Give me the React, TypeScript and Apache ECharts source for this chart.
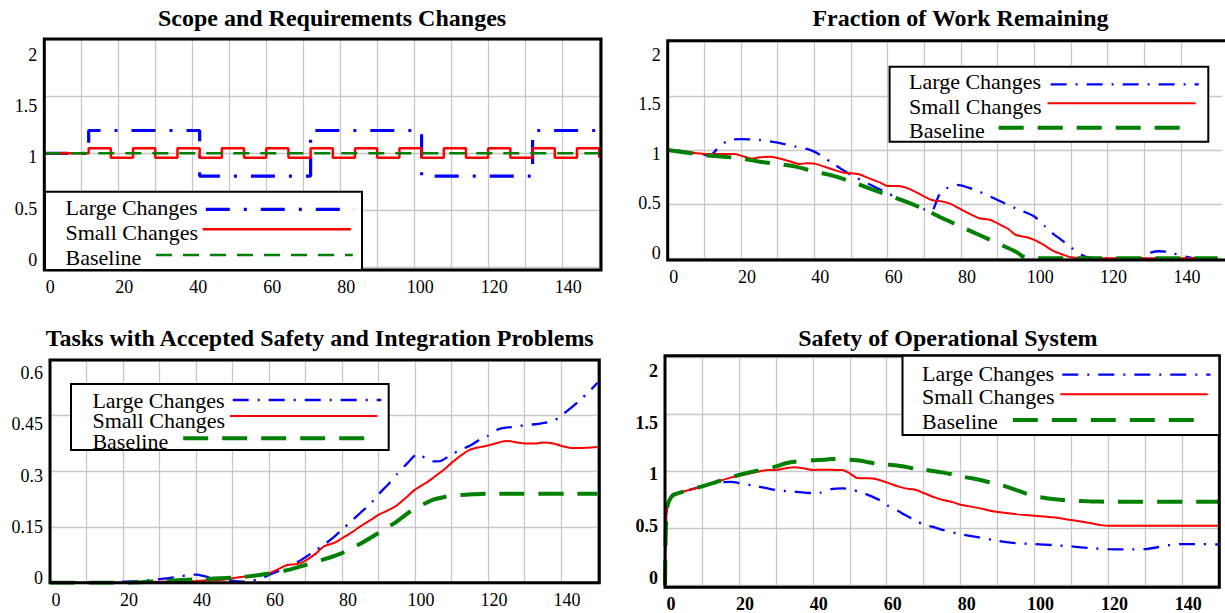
import React, { useEffect, useRef } from "react";
import * as echarts from "echarts";

const SERIF = '"Liberation Serif", "Times New Roman", Times, serif';
const BLUE = "#0000ff";
const RED = "#ff0000";
const GREEN = "#008000";
const GRID_LINE = "#c8c8c8";

const SERIES_NAMES = ["Large Changes", "Small Changes", "Baseline"];
const X_TICK_LABELS = [0, 20, 40, 60, 80, 100, 120, 140];
const Y_TICK_LABELS_2 = [0, 0.5, 1, 1.5, 2];
const Y_TICK_LABELS_06 = [0, 0.15, 0.3, 0.45, 0.6];

// Scope and Requirements Changes (piecewise constant)
const scopeLargeT = [0, 12, 42, 72, 102, 132, 150];
const scopeLargeV = [1, 1.2, 0.8, 1.2, 0.8, 1.2, 1.2];
const scopeSmallT = [0, 12, 18, 24, 30, 36, 42, 48, 54, 60, 66, 72, 78, 84, 90, 96, 102, 108, 114, 120, 126, 132, 138, 144, 150];
const scopeSmallV = [1, 1.045, 0.96, 1.045, 0.96, 1.045, 0.96, 1.045, 0.96, 1.045, 0.96, 1.045, 0.96, 1.045, 0.96, 1.045, 0.96, 1.045, 0.96, 1.045, 0.96, 1.045, 0.96, 1.045, 0.96];
const scopeBaseT = [0, 150];
const scopeBaseV = [1, 1];

// Fraction of Work Remaining
const fwrLargeT = [0, 5, 10, 12, 14, 16, 18, 20, 25, 30, 35, 38, 40, 42, 45, 48, 50, 55, 60, 65, 70, 72, 74, 76, 79, 82, 85, 88, 90, 95, 100, 103, 105, 108, 110, 113, 115, 120, 130, 131, 132, 134, 136, 138, 140, 142, 144, 150];
const fwrLargeV = [1.0, 0.985, 0.955, 0.96, 1.03, 1.077, 1.098, 1.1, 1.092, 1.068, 1.03, 1.01, 0.985, 0.945, 0.877, 0.81, 0.77, 0.683, 0.6, 0.523, 0.452, 0.44, 0.58, 0.645, 0.677, 0.652, 0.615, 0.569, 0.538, 0.46, 0.385, 0.292, 0.23, 0.154, 0.1, 0.03, 0.006, 0, 0, 0.03, 0.055, 0.065, 0.062, 0.045, 0.025, 0.01, 0, 0];
const fwrSmallT = [0, 5, 10, 15, 18, 20, 23, 25, 28, 30, 33, 36, 38, 40, 45, 48, 50, 52, 55, 58, 60, 63, 65, 68, 70, 72, 75, 77, 80, 83, 85, 88, 90, 93, 95, 98, 100, 103, 105, 108, 110, 113, 150];
const fwrSmallV = [1.0, 0.985, 0.963, 0.963, 0.962, 0.948, 0.92, 0.932, 0.938, 0.926, 0.898, 0.871, 0.877, 0.874, 0.82, 0.79, 0.785, 0.778, 0.738, 0.698, 0.668, 0.668, 0.652, 0.606, 0.569, 0.538, 0.523, 0.505, 0.452, 0.4, 0.369, 0.354, 0.323, 0.268, 0.215, 0.194, 0.169, 0.114, 0.071, 0.031, 0.009, 0, 0];
const fwrBaseT = [0, 10, 15, 20, 25, 30, 35, 40, 45, 50, 55, 60, 65, 70, 75, 80, 85, 90, 95, 97, 98, 150];
const fwrBaseV = [1.0, 0.954, 0.938, 0.923, 0.892, 0.871, 0.846, 0.8, 0.763, 0.708, 0.646, 0.585, 0.523, 0.452, 0.369, 0.292, 0.215, 0.138, 0.06, 0.015, 0, 0];

// Tasks with Accepted Safety and Integration Problems
const taskLargeT = [0, 10, 20, 25, 30, 35, 38, 40, 43, 45, 48, 50, 53, 55, 58, 60, 63, 65, 68, 70, 73, 75, 78, 80, 83, 85, 88, 90, 93, 95, 98, 100, 101, 103, 105, 107, 110, 113, 115, 118, 120, 123, 125, 128, 130, 133, 135, 138, 140, 143, 145, 148, 150];
const taskLargeV = [0, 0, 0.003, 0.005, 0.01, 0.016, 0.021, 0.022, 0.016, 0.014, 0.009, 0.005, 0.003, 0.005, 0.012, 0.021, 0.034, 0.048, 0.057, 0.069, 0.089, 0.102, 0.125, 0.143, 0.17, 0.188, 0.215, 0.238, 0.269, 0.292, 0.323, 0.343, 0.348, 0.334, 0.327, 0.328, 0.346, 0.36, 0.369, 0.387, 0.396, 0.414, 0.418, 0.421, 0.425, 0.427, 0.43, 0.436, 0.45, 0.473, 0.49, 0.518, 0.539];
const taskSmallT = [0, 20, 25, 30, 35, 40, 45, 48, 50, 53, 55, 58, 60, 63, 65, 68, 70, 73, 75, 78, 80, 83, 85, 88, 90, 93, 95, 98, 100, 103, 105, 108, 110, 113, 115, 118, 120, 123, 125, 128, 130, 133, 135, 138, 140, 143, 145, 150];
const taskSmallV = [0, 0, 0.002, 0.003, 0.004, 0.005, 0.007, 0.009, 0.012, 0.016, 0.018, 0.021, 0.025, 0.039, 0.048, 0.051, 0.06, 0.08, 0.098, 0.108, 0.12, 0.138, 0.152, 0.17, 0.183, 0.197, 0.208, 0.233, 0.251, 0.269, 0.283, 0.305, 0.323, 0.346, 0.358, 0.366, 0.37, 0.378, 0.382, 0.378, 0.375, 0.375, 0.378, 0.375, 0.369, 0.363, 0.363, 0.366];
const taskBaseT = [0, 20, 30, 40, 50, 55, 60, 65, 70, 75, 80, 85, 90, 95, 100, 103, 105, 108, 110, 115, 120, 150];
const taskBaseV = [0, 0, 0.005, 0.009, 0.014, 0.018, 0.025, 0.034, 0.048, 0.063, 0.08, 0.105, 0.134, 0.165, 0.201, 0.215, 0.224, 0.231, 0.235, 0.238, 0.24, 0.24];

// Safety of Operational System
const safeLargeT = [0, 0.2, 0.5, 1, 2, 3, 5, 10, 15, 18, 20, 25, 30, 35, 40, 42, 45, 48, 50, 53, 55, 58, 60, 63, 65, 68, 70, 73, 75, 80, 85, 90, 95, 100, 105, 110, 115, 120, 125, 130, 133, 135, 140, 145, 150];
const safeLargeV = [0, 0.45, 0.66, 0.73, 0.785, 0.8, 0.82, 0.865, 0.9, 0.905, 0.895, 0.866, 0.833, 0.819, 0.807, 0.81, 0.842, 0.848, 0.842, 0.813, 0.789, 0.746, 0.702, 0.652, 0.614, 0.564, 0.529, 0.506, 0.485, 0.447, 0.418, 0.389, 0.368, 0.36, 0.351, 0.339, 0.325, 0.316, 0.313, 0.316, 0.33, 0.345, 0.36, 0.36, 0.357];
const safeSmallT = [0, 0.2, 0.5, 1, 2, 3, 5, 10, 15, 18, 20, 25, 28, 30, 33, 35, 37, 40, 42, 45, 48, 50, 52, 55, 57, 60, 63, 65, 68, 70, 73, 75, 78, 80, 85, 88, 90, 95, 100, 105, 110, 115, 118, 120, 150];
const safeSmallV = [0, 0.45, 0.66, 0.73, 0.785, 0.8, 0.82, 0.865, 0.915, 0.944, 0.959, 0.994, 1.009, 1.009, 1.026, 1.032, 1.026, 1.009, 1.012, 1.01, 1.009, 0.98, 0.939, 0.936, 0.93, 0.9, 0.865, 0.848, 0.833, 0.807, 0.769, 0.749, 0.725, 0.705, 0.675, 0.652, 0.64, 0.623, 0.608, 0.594, 0.57, 0.544, 0.526, 0.52, 0.52];
const safeBaseT = [0, 0.2, 0.5, 1, 2, 3, 5, 10, 15, 18, 20, 25, 28, 30, 33, 35, 38, 40, 43, 45, 48, 50, 53, 55, 58, 60, 63, 65, 68, 70, 73, 75, 78, 80, 83, 85, 88, 90, 93, 95, 98, 100, 103, 105, 108, 110, 115, 120, 150];
const safeBaseV = [0, 0.45, 0.66, 0.73, 0.785, 0.8, 0.82, 0.865, 0.915, 0.944, 0.965, 1.003, 1.023, 1.04, 1.07, 1.082, 1.088, 1.094, 1.099, 1.105, 1.102, 1.099, 1.09, 1.076, 1.06, 1.058, 1.047, 1.038, 1.018, 1.012, 0.997, 0.988, 0.968, 0.953, 0.936, 0.924, 0.9, 0.886, 0.857, 0.833, 0.798, 0.778, 0.763, 0.754, 0.746, 0.74, 0.734, 0.731, 0.731];

type Look = { color: string; width: number; dash: number[] | "solid" };
type Box = [number, number, number, number];

interface PanelSpec {
  title: string;
  titleX: number;
  titleY: number;
  box: Box; // left, top, right, bottom of the plot frame
  xMax: number;
  hideLastVerticalLine: boolean;
  yMin: number;
  yMax: number;
  yInterval?: number;
  labelMin: number;
  labelMax: number;
  yLabels: number[];
  bold: boolean;
  step: boolean;
  data: [number[], number[]][];
  looks: Look[];
  legendBox: Box;
  legendTextX: number;
  legendTextY: number[];
  legendLineY: number[];
  legendLineX: [number, number][];
}

const thinLooks: Look[] = [
  { color: BLUE, width: 3.2, dash: [24, 14, 3, 14] },
  { color: RED, width: 2.5, dash: "solid" },
  { color: GREEN, width: 2.5, dash: [16, 11] },
];
const curveLooks: Look[] = [
  { color: BLUE, width: 2.3, dash: [16, 9, 2, 9] },
  { color: RED, width: 2, dash: "solid" },
  { color: GREEN, width: 4, dash: [25, 14] },
];

const panels: PanelSpec[] = [
  {
    title: "Scope and Requirements Changes",
    titleX: 332,
    titleY: 18,
    box: [44.3, 39, 601, 270],
    xMax: 150.5,
    hideLastVerticalLine: false,
    yMin: -0.024,
    yMax: 2.003,
    labelMin: -0.0976,
    labelMax: 2.156,
    yLabels: Y_TICK_LABELS_2,
    bold: false,
    step: true,
    data: [[scopeLargeT, scopeLargeV], [scopeSmallT, scopeSmallV], [scopeBaseT, scopeBaseV]],
    looks: thinLooks,
    legendBox: [45, 191.7, 362, 270],
    legendTextX: 65.5,
    legendTextY: [207, 232, 257],
    legendLineY: [209.3, 229.3, 255],
    legendLineX: [[205.8, 354], [202.7, 350.9], [156, 352.8]],
  },
  {
    title: "Fraction of Work Remaining",
    titleX: 960.5,
    titleY: 18,
    box: [667.7, 40.7, 1227, 260],
    xMax: 151.2,
    hideLastVerticalLine: true,
    yMin: -0.016,
    yMax: 2.009,
    labelMin: -0.074,
    labelMax: 2.145,
    yLabels: Y_TICK_LABELS_2,
    bold: false,
    step: false,
    data: [[fwrLargeT, fwrLargeV], [fwrSmallT, fwrSmallV], [fwrBaseT, fwrBaseV]],
    looks: curveLooks,
    legendBox: [889.6, 66.7, 1208.3, 141.7],
    legendTextX: 909,
    legendTextY: [81, 106.7, 130],
    legendLineY: [84.3, 103.3, 127.7],
    legendLineX: [[1050.6, 1198.7], [1047.5, 1195.6], [998.7, 1182]],
  },
  {
    title: "Tasks with Accepted Safety and Integration Problems",
    titleX: 319.7,
    titleY: 338,
    box: [50, 360, 599.3, 582.8],
    xMax: 150.5,
    hideLastVerticalLine: false,
    yMin: 0,
    yMax: 0.6,
    yInterval: 0.15,
    labelMin: -0.014,
    labelMax: 0.638,
    yLabels: Y_TICK_LABELS_06,
    bold: false,
    step: false,
    data: [[taskLargeT, taskLargeV], [taskSmallT, taskSmallV], [taskBaseT, taskBaseV]],
    looks: curveLooks,
    legendBox: [71, 384, 388.7, 450],
    legendTextX: 92.4,
    legendTextY: [400, 420, 441.7],
    legendLineY: [400, 416, 438.3],
    legendLineX: [[232.7, 381.3], [230, 377.4], [183.2, 367.6]],
  },
  {
    title: "Safety of Operational System",
    titleX: 947.9,
    titleY: 338,
    box: [665, 355.7, 1219.3, 587.3],
    xMax: 150,
    hideLastVerticalLine: false,
    yMin: -0.016,
    yMax: 2.01,
    labelMin: -0.0867,
    labelMax: 2.1445,
    yLabels: Y_TICK_LABELS_2,
    bold: true,
    step: false,
    data: [[safeLargeT, safeLargeV], [safeSmallT, safeSmallV], [safeBaseT, safeBaseV]],
    looks: curveLooks,
    legendBox: [902.5, 355.7, 1219.3, 435],
    legendTextX: 922,
    legendTextY: [373.3, 396.7, 421.3],
    legendLineY: [374.7, 394.3, 420],
    legendLineX: [[1062.3, 1210.4], [1060.3, 1207.7], [1012.8, 1195.6]],
  },
];

const zip = (t: number[], v: number[]) => t.map((x, i) => [x, v[i]]);

function verticalLineColors(p: PanelSpec): string | string[] {
  if (!p.hideLastVerticalLine) return GRID_LINE;
  // one colour per vertical grid line: 0, 10, ..., 150, then the axis end
  const colors: string[] = [];
  for (let tick = 0; tick <= 150; tick += 10) colors.push(tick === 150 ? "rgba(0,0,0,0)" : GRID_LINE);
  colors.push("rgba(0,0,0,0)");
  return colors;
}

function buildOption() {
  const grid: any[] = [];
  const xAxis: any[] = [];
  const yAxis: any[] = [];
  const series: any[] = [];
  const graphic: any[] = [];

  panels.forEach((p, i) => {
    const [l, t, r, b] = p.box;
    const weight = p.bold ? "bold" : "normal";
    grid.push({ left: l, top: t, width: r - l, height: b - t, show: false });

    xAxis.push({
      gridIndex: i,
      type: "value",
      min: 0,
      max: p.xMax,
      interval: 10,
      axisLine: { show: false, onZero: false },
      axisTick: { show: false },
      splitLine: { show: true, lineStyle: { color: verticalLineColors(p), width: 1.3 } },
      axisLabel: {
        margin: 8,
        padding: [0, 0, 0, 12],
        fontFamily: SERIF,
        fontSize: 18,
        fontWeight: weight,
        color: "#000",
        formatter: (v: number) => (X_TICK_LABELS.includes(v) ? String(v) : ""),
      },
    });

    // value axis carrying the data and the horizontal grid lines
    const dataAxis: any = {
      gridIndex: i,
      type: "value",
      position: "left",
      min: p.yMin,
      max: p.yMax,
      axisLine: { show: false, onZero: false },
      axisTick: { show: false },
      axisLabel: { show: false },
      splitLine: { show: true, lineStyle: { color: GRID_LINE, width: 1.3 } },
    };
    if (p.yInterval) dataAxis.interval = p.yInterval;
    else dataAxis.splitNumber = 5;
    yAxis.push(dataAxis);

    // companion axis that only places the tick labels
    yAxis.push({
      gridIndex: i,
      type: "value",
      position: "left",
      min: p.labelMin,
      max: p.labelMax,
      axisLine: { show: false, onZero: false },
      axisTick: { show: false },
      splitLine: { show: false },
      axisLabel: {
        customValues: p.yLabels,
        margin: 7,
        fontFamily: SERIF,
        fontSize: 18,
        fontWeight: weight,
        color: "#000",
        formatter: (v: number) => {
          const hit = p.yLabels.find((lv) => Math.abs(lv - v) < 1e-9);
          return hit === undefined ? "" : String(hit);
        },
      },
    });

    p.data.forEach(([tt, vv], k) => {
      const look = p.looks[k];
      series.push({
        type: "line",
        name: SERIES_NAMES[k],
        xAxisIndex: i,
        yAxisIndex: i * 2,
        data: zip(tt, vv),
        symbol: "none",
        showSymbol: false,
        silent: true,
        step: p.step ? "end" : false,
        smooth: p.step ? false : 0.25,
        clip: true,
        lineStyle: { color: look.color, width: look.width, type: look.dash, cap: "butt" },
        z: 2 + k,
      });
    });

    // plot frame
    graphic.push({
      type: "rect",
      z: 90,
      silent: true,
      shape: { x: l, y: t, width: r - l, height: b - t },
      style: { fill: "none", stroke: "#000", lineWidth: 3 },
    });

    graphic.push({
      type: "text",
      x: p.titleX,
      y: p.titleY,
      z: 100,
      style: {
        text: p.title,
        font: `bold 24px ${SERIF}`,
        fill: "#000",
        align: "center",
        verticalAlign: "middle",
      },
    });

    const [bl, bt, br, bb] = p.legendBox;
    graphic.push({
      type: "rect",
      z: 100,
      shape: { x: bl, y: bt, width: br - bl, height: bb - bt },
      style: { fill: "#fff", stroke: "#000", lineWidth: 2 },
    });
    SERIES_NAMES.forEach((name, k) => {
      const look = p.looks[k];
      graphic.push({
        type: "text",
        x: p.legendTextX,
        y: p.legendTextY[k],
        z: 101,
        style: {
          text: name,
          font: `22px ${SERIF}`,
          fill: "#000",
          align: "left",
          verticalAlign: "middle",
        },
      });
      graphic.push({
        type: "line",
        z: 101,
        shape: {
          x1: p.legendLineX[k][0],
          y1: p.legendLineY[k],
          x2: p.legendLineX[k][1],
          y2: p.legendLineY[k],
        },
        style: {
          stroke: look.color,
          lineWidth: look.width,
          lineDash: look.dash === "solid" ? null : look.dash,
          lineCap: "butt",
        },
      });
    });
  });

  return {
    animation: false,
    backgroundColor: "#fff",
    grid,
    xAxis,
    yAxis,
    series,
    graphic,
  };
}

export default function App() {
  const ref = useRef<HTMLDivElement>(null);

  useEffect(() => {
    if (!ref.current) return;
    const chart = echarts.init(ref.current, undefined, { renderer: "svg" });
    chart.setOption(buildOption() as any);
    return () => chart.dispose();
  }, []);

  return (
    <div
      ref={ref}
      style={{ position: "absolute", left: 0, top: 0, width: 1225, height: 613, background: "#fff" }}
    />
  );
}
